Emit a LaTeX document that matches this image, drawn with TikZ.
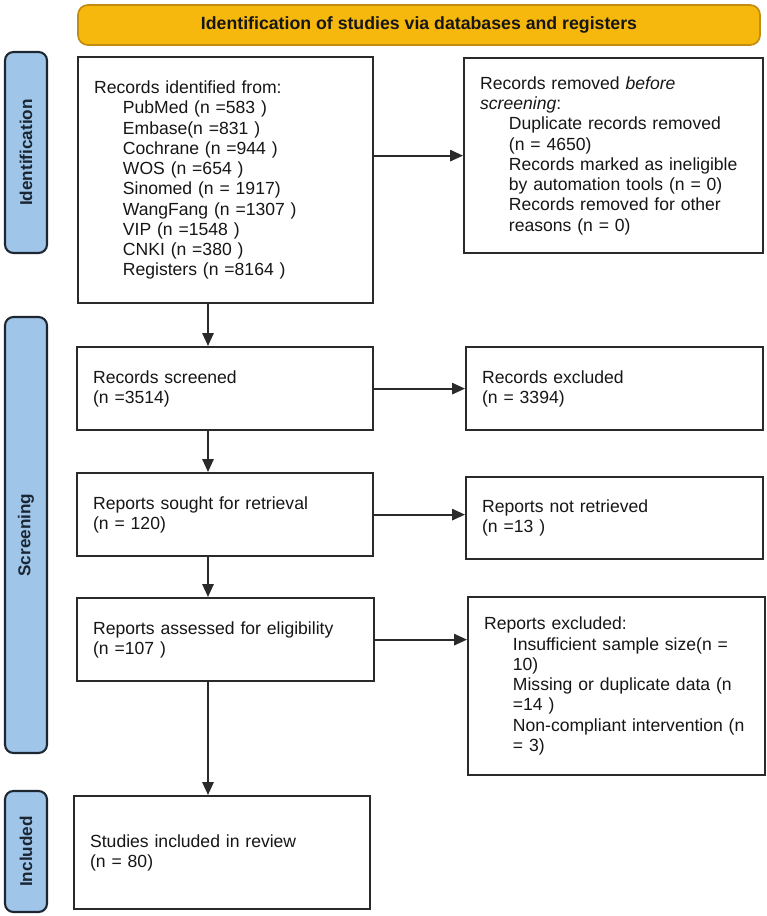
\documentclass[tikz,border=0pt]{standalone}
\usepackage{fontspec}
\setmainfont{Liberation Sans}
\usetikzlibrary{arrows.meta,calc}
\definecolor{FlowInk}{HTML}{161616}
\definecolor{FlowLine}{HTML}{2A2A2A}
\definecolor{FlowBanner}{HTML}{F6B80C}
\definecolor{FlowBannerEdge}{HTML}{C28C10}
\definecolor{FlowPhase}{HTML}{9FC5E8}
\definecolor{FlowPhaseEdge}{HTML}{1E2731}
\definecolor{FlowPhaseText}{HTML}{1B2633}
\newcommand{\ind}{\hspace*{0.72cm}}
\tikzset{
  every node/.style={font=\fontsize{12.5}{14.4}\selectfont, text=FlowInk},
  record/.style={draw=FlowLine, line width=1.6pt, fill=white, anchor=north west, align=left, inner xsep=0.4cm, inner ysep=0pt},
  banner/.style={draw=FlowBannerEdge, line width=1.2pt, fill=FlowBanner, rounded corners=7pt, font=\bfseries\fontsize{12.6}{14.4}\selectfont, inner sep=0pt},
  phase/.style={draw=FlowPhaseEdge, line width=1.5pt, fill=FlowPhase, rounded corners=6pt, rotate=90, minimum height=1.05cm, inner sep=0pt, font=\bfseries\fontsize{12.2}{14}\selectfont, text=FlowPhaseText},
  flow/.style={-{Triangle[length=3.2mm,width=2.8mm]}, draw=FlowLine, line width=1.35pt},
}

\begin{document}
\begin{tikzpicture}[x=1cm,y=1cm]
  \useasboundingbox (0,0) rectangle (19.175,-22.9);
  % Banner and phase bars
  \node[banner, minimum width=17.05cm, minimum height=1.0cm] (title) at (10.475,-0.625) {Identification of studies via databases and registers};
  \node[phase, minimum width=5.025cm] (idbar) at (0.65,-3.8125) {Identification};
  \node[phase, minimum width=10.9cm] (scrbar) at (0.65,-13.375) {Screening};
  \node[phase, minimum width=3.025cm] (incbar) at (0.65,-21.2875) {Included};
  % Left column
  \node[record, text width=6.575cm, minimum height=6.15cm] (ident) at (1.925,-1.4) {Records identified from:\\
    \ind PubMed (n =583 )\\
    \ind Embase(n =831 )\\
    \ind Cochrane (n =944 )\\
    \ind WOS (n =654 )\\
    \ind Sinomed (n = 1917)\\
    \ind WangFang (n =1307 )\\
    \ind VIP (n =1548 )\\
    \ind CNKI (n =380 )\\
    \ind Registers (n =8164 )};
  \node[record, text width=6.6cm, minimum height=2.075cm] (screened) at (1.9,-8.65) {Records screened\\(n =3514)};
  \node[record, text width=6.6cm, minimum height=2.075cm] (sought) at (1.9,-11.8) {Reports sought for retrieval\\(n = 120)};
  \node[record, text width=6.625cm, minimum height=2.075cm] (assessed) at (1.9,-14.925) {Reports assessed for eligibility\\(n =107 )};
  \node[record, text width=6.6cm, minimum height=2.825cm] (included) at (1.825,-19.875) {Studies included in review\\(n = 80)};
  % Right column
  \node[record, text width=6.675cm, minimum height=4.875cm] (removed) at (11.575,-1.425) {Records removed \textit{before}\\
    \textit{screening}:\\
    \ind Duplicate records removed\\
    \ind (n = 4650)\\
    \ind Records marked as ineligible\\
    \ind by automation tools (n = 0)\\
    \ind Records removed for other\\
    \ind reasons (n = 0)};
  \node[record, text width=6.625cm, minimum height=2.075cm] (excluded) at (11.625,-8.65) {Records excluded\\(n = 3394)};
  \node[record, text width=6.625cm, minimum height=2.05cm] (notretr) at (11.625,-11.9) {Reports not retrieved\\(n =13 )};
  \node[record, text width=6.625cm, minimum height=4.45cm] (repexcl) at (11.675,-14.9) {Reports excluded:\\
    \ind Insufficient sample size(n =\\
    \ind 10)\\
    \ind Missing or duplicate data (n\\
    \ind =14 )\\
    \ind Non-compliant intervention (n\\
    \ind = 3)};
  % Main line runs left of the box centres
  \coordinate (spine) at (5.2,0);
  \draw[flow] (ident.south -| spine) -- (screened.north -| spine);
  \draw[flow] (screened.south -| spine) -- (sought.north -| spine);
  \draw[flow] (sought.south -| spine) -- (assessed.north -| spine);
  \draw[flow] (assessed.south -| spine) -- (included.north -| spine);
  % Side exits
  \draw[flow] (ident.east |- removed.west) -- (removed.west);
  \draw[flow] (screened.east) -- (excluded.west);
  \draw[flow] (sought.east) -- (sought.east -| notretr.west);
  \draw[flow] (assessed.east) -- (assessed.east -| repexcl.west);
\end{tikzpicture}
\end{document}
